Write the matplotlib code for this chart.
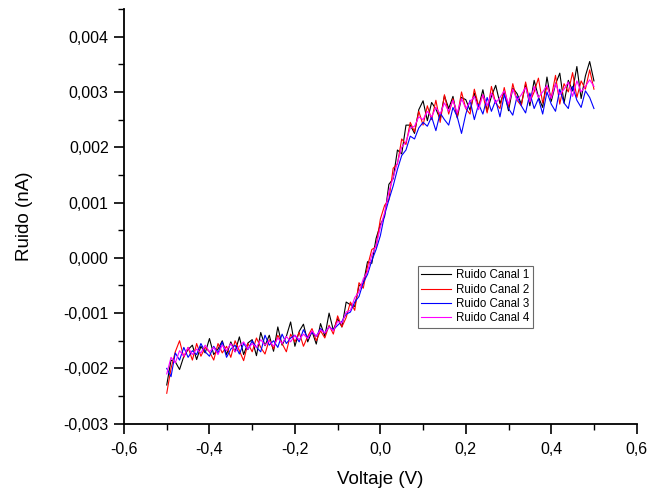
import numpy as np
import matplotlib
matplotlib.use("Agg")
import matplotlib.pyplot as plt
from matplotlib.ticker import FuncFormatter, MultipleLocator, AutoMinorLocator

plt.rcParams['font.family'] = ['Liberation Sans', 'DejaVu Sans']

# Values in units of 1e-3 nA, voltage from -0.5 V to 0.5 V in steps of 0.01 V
canal1 = [-2.30, -1.85, -1.88, -2.02, -1.78, -1.66, -1.58, -1.84, -1.60, -1.72, -1.46, -1.75, -1.65, -1.50, -1.75,
          -1.52, -1.70, -1.43, -1.75, -1.54, -1.48, -1.77, -1.35, -1.59, -1.40, -1.69, -1.25, -1.58, -1.42, -1.16,
          -1.60, -1.33, -1.20, -1.52, -1.33, -1.56, -1.19, -1.42, -1.00, -1.31, -1.10, -1.25, -0.80, -0.85, -0.88,
          -0.50, -0.47, -0.07, -0.10, 0.35, 0.60, 0.75, 1.33, 1.43, 1.95, 1.88, 2.40, 2.40, 2.25, 2.68, 2.84, 2.48,
          2.81, 2.69, 2.51, 2.93, 2.70, 2.92, 2.53, 2.90, 2.86, 2.67, 2.98, 2.73, 3.04, 2.65, 2.92, 3.12, 2.79, 3.00,
          2.66, 3.07, 2.97, 2.78, 3.14, 2.75, 3.21, 2.91, 2.72, 3.27, 2.83, 3.14, 3.34, 2.80, 3.21, 3.02, 3.46, 2.88,
          3.29, 3.55, 3.20]
canal2 = [-2.45, -2.00, -1.70, -1.50, -1.80, -1.62, -1.85, -1.55, -1.78, -1.62, -1.70, -1.85, -1.55, -1.72, -1.60,
          -1.80, -1.50, -1.68, -1.86, -1.55, -1.70, -1.45, -1.62, -1.74, -1.48, -1.65, -1.40, -1.55, -1.70, -1.38,
          -1.52, -1.35, -1.60, -1.42, -1.28, -1.50, -1.32, -1.45, -1.22, -1.38, -1.05, -1.25, -1.08, -0.80, -0.95,
          -0.45, -0.55, -0.15, 0.15, 0.20, 0.70, 0.95, 1.05, 1.62, 1.70, 2.15, 2.05, 2.45, 2.28, 2.65, 2.40, 2.75,
          2.50, 2.85, 2.45, 2.95, 2.60, 2.88, 2.55, 3.00, 2.70, 2.60, 3.05, 2.75, 2.95, 2.62, 3.10, 2.80, 2.70, 3.08,
          2.72, 3.15, 2.85, 2.75, 3.18, 2.82, 3.00, 3.25, 2.80, 3.10, 2.90, 3.30, 2.78, 3.15, 3.00, 3.35, 2.90, 3.20,
          3.05, 3.40, 3.05]
canal3 = [-2.00, -2.15, -1.72, -1.85, -1.62, -1.80, -1.68, -1.75, -1.55, -1.70, -1.78, -1.60, -1.72, -1.52, -1.80,
          -1.65, -1.58, -1.74, -1.55, -1.66, -1.50, -1.62, -1.70, -1.40, -1.58, -1.50, -1.62, -1.38, -1.55, -1.45,
          -1.40, -1.52, -1.30, -1.45, -1.35, -1.42, -1.28, -1.36, -1.25, -1.30, -1.22, -1.15, -1.02, -0.98, -0.80,
          -0.70, -0.45, -0.30, -0.05, 0.15, 0.40, 0.78, 1.05, 1.30, 1.60, 1.85, 1.95, 2.20, 2.15, 2.35, 2.45, 2.38,
          2.55, 2.30, 2.62, 2.50, 2.40, 2.72, 2.55, 2.25, 2.60, 2.85, 2.50, 2.78, 2.60, 2.90, 2.65, 2.85, 2.55, 2.95,
          2.70, 2.58, 2.92, 2.75, 2.62, 2.98, 2.70, 2.88, 2.60, 3.00, 2.78, 2.65, 3.05, 2.80, 2.70, 3.10, 2.85, 2.72,
          3.02, 2.90, 2.70]
canal4 = [-2.10, -1.80, -1.90, -1.68, -1.78, -1.62, -1.75, -1.65, -1.72, -1.58, -1.70, -1.62, -1.75, -1.58, -1.68,
          -1.55, -1.70, -1.60, -1.52, -1.65, -1.55, -1.62, -1.48, -1.58, -1.50, -1.60, -1.45, -1.55, -1.42, -1.52,
          -1.40, -1.48, -1.38, -1.46, -1.32, -1.42, -1.30, -1.36, -1.25, -1.32, -1.15, -1.18, -0.98, -0.95, -0.72,
          -0.62, -0.38, -0.25, 0.05, 0.22, 0.55, 0.82, 1.20, 1.45, 1.72, 2.00, 2.10, 2.35, 2.38, 2.55, 2.50, 2.65,
          2.55, 2.72, 2.60, 2.80, 2.65, 2.85, 2.62, 2.88, 2.70, 2.82, 2.92, 2.68, 2.95, 2.75, 2.98, 2.80, 2.90, 3.02,
          2.78, 3.05, 2.85, 2.95, 3.08, 2.82, 3.10, 2.90, 3.00, 3.12, 2.88, 3.15, 2.95, 3.05, 3.18, 2.92, 3.20, 3.00,
          3.10, 3.22, 3.10]
series = [canal1, canal2, canal3, canal4]
labels = ["Ruido Canal 1", "Ruido Canal 2", "Ruido Canal 3", "Ruido Canal 4"]
colors = ["#000000", "#ff0000", "#0000ff", "#ff00ff"]
scale = 1e-3
v_start, v_end = -0.5, 0.5

fig = plt.figure(figsize=(6.5, 4.93), dpi=100)
ax = fig.add_axes([0.1908, 0.1406, 0.7887, 0.8411])

for s, lab, c in zip(series, labels, colors):
    x = np.linspace(v_start, v_end, len(s))
    ax.plot(x, np.array(s) * scale, color=c, lw=0.8, label=lab)

ax.set_xlim(-0.6, 0.6)
ax.set_ylim(-0.003, 0.0045)
ax.xaxis.set_major_locator(MultipleLocator(0.2))
ax.yaxis.set_major_locator(MultipleLocator(0.001))
ax.xaxis.set_minor_locator(AutoMinorLocator(2))
ax.yaxis.set_minor_locator(AutoMinorLocator(2))
ax.xaxis.set_major_formatter(FuncFormatter(lambda v, p: f"{v:.1f}".replace('.', ',').replace('-0,0', '0,0')))
ax.yaxis.set_major_formatter(FuncFormatter(lambda v, p: f"{v:.3f}".replace('.', ',') if abs(v) > 1e-9 else "0,000"))

for side in ['top', 'right']:
    ax.spines[side].set_visible(False)
for side in ['left', 'bottom']:
    ax.spines[side].set_linewidth(1.3)
ax.tick_params(which='major', direction='out', length=7, width=1.2, labelsize=11.5, pad=4)
ax.tick_params(axis='x', which='major', pad=6)
ax.tick_params(which='minor', direction='out', length=4, width=1.0)

ax.set_xlabel("Voltaje (V)", fontsize=13.5, labelpad=10)
ax.set_ylabel("Ruido (nA)", fontsize=13.5, labelpad=22)

leg = ax.legend(loc='upper left', bbox_to_anchor=(418/650, 1 - 266/493), bbox_transform=fig.transFigure,
                fontsize=8.3, frameon=True, fancybox=False, handlelength=2.6, labelspacing=0.2,
                borderpad=0.3, handletextpad=0.4, borderaxespad=0)
leg.get_frame().set_edgecolor('#444444')
leg.get_frame().set_linewidth(0.8)

fig.savefig("out.png", dpi=100)
